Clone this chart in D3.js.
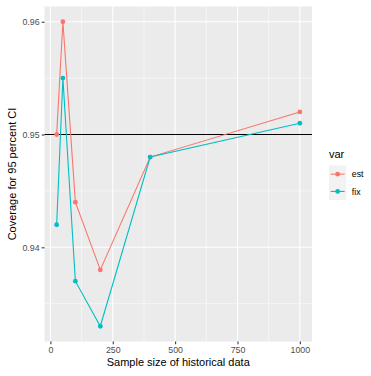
<!DOCTYPE html>
<html>
<head>
<meta charset="utf-8">
<script src="https://cdn.jsdelivr.net/npm/d3@7"></script>
<style>
  body { margin: 0; background: #fff; }
  svg text { font-family: "Liberation Sans", Arial, sans-serif; }
</style>
</head>
<body>
<div id="chart"></div>
<script>
const sampleSizes = [25, 50, 100, 200, 400, 1000];
const estValues = [0.950, 0.960, 0.944, 0.938, 0.948, 0.952];
const fixValues = [0.942, 0.955, 0.937, 0.933, 0.948, 0.951];
const seriesNames = ['est', 'fix'];
const xTicks = [0, 250, 500, 750, 1000];
const xMinor = [125, 375, 625, 875];
const yTicks = [0.94, 0.95, 0.96];
const yMinor = [0.935, 0.945, 0.955];
const refLine = 0.95;

function drawChart() {
    const W = 371, H = 376;
    const panel = {left: 44.5, right: 312, top: 6.5, bottom: 341.5};

    const svg = d3.select('#chart')
        .append('svg')
        .attr('width', W)
        .attr('height', H);

    const series = [
        {key: 'est', values: estValues},
        {key: 'fix', values: fixValues}
    ];

    // ggplot-like 5% expansion
    const allY = estValues.concat(fixValues);
    const xExt = d3.extent(sampleSizes), yExt = d3.extent(allY);
    const xPad = (xExt[1] - xExt[0]) * 0.05, yPad = (yExt[1] - yExt[0]) * 0.05;

    const x = d3.scaleLinear()
        .domain([xExt[0] - xPad, xExt[1] + xPad])
        .range([panel.left, panel.right]);

    const y = d3.scaleLinear()
        .domain([yExt[0] - yPad, yExt[1] + yPad])
        .range([panel.bottom, panel.top]);

    const color = d3.scaleOrdinal()
        .domain(seriesNames)
        .range(['#F8766D', '#00BFC4']);

    // panel background
    svg.append('rect')
        .attr('x', panel.left)
        .attr('y', panel.top)
        .attr('width', panel.right - panel.left)
        .attr('height', panel.bottom - panel.top)
        .attr('fill', '#EBEBEB');

    const grid = svg.append('g').attr('stroke', '#fff').attr('fill', 'none');
    grid.selectAll('.ymin').data(yMinor).join('line')
        .attr('x1', panel.left).attr('x2', panel.right)
        .attr('y1', d => y(d)).attr('y2', d => y(d))
        .attr('stroke-width', 0.53);
    grid.selectAll('.xmin').data(xMinor).join('line')
        .attr('y1', panel.top).attr('y2', panel.bottom)
        .attr('x1', d => x(d)).attr('x2', d => x(d))
        .attr('stroke-width', 0.53);
    grid.selectAll('.ymaj').data(yTicks).join('line')
        .attr('x1', panel.left).attr('x2', panel.right)
        .attr('y1', d => y(d)).attr('y2', d => y(d))
        .attr('stroke-width', 1.07);
    grid.selectAll('.xmaj').data(xTicks).join('line')
        .attr('y1', panel.top).attr('y2', panel.bottom)
        .attr('x1', d => x(d)).attr('x2', d => x(d))
        .attr('stroke-width', 1.07);

    // reference line
    svg.append('line')
        .attr('x1', panel.left).attr('x2', panel.right)
        .attr('y1', y(refLine)).attr('y2', y(refLine))
        .attr('stroke', '#000')
        .attr('stroke-width', 1.1);

    const line = d3.line()
        .x((d, i) => x(sampleSizes[i]))
        .y(d => y(d));

    svg.append('g')
        .selectAll('path')
        .data(series)
        .join('path')
        .attr('fill', 'none')
        .attr('stroke', d => color(d.key))
        .attr('stroke-width', 1.1)
        .attr('d', d => line(d.values));

    svg.append('g')
        .selectAll('g')
        .data(series)
        .join('g')
        .attr('fill', d => color(d.key))
        .selectAll('circle')
        .data(d => d.values)
        .join('circle')
        .attr('cx', (d, i) => x(sampleSizes[i]))
        .attr('cy', d => y(d))
        .attr('r', 2.4);

    // Axes
    const xAxis = svg.append('g')
        .attr('transform', `translate(0,${panel.bottom})`)
        .call(d3.axisBottom(x).tickValues(xTicks).tickFormat(d3.format('d')).tickSize(2.75).tickPadding(2.2));
    const yAxis = svg.append('g')
        .attr('transform', `translate(${panel.left},0)`)
        .call(d3.axisLeft(y).tickValues(yTicks).tickFormat(d3.format('.2f')).tickSize(2.75).tickPadding(2.2));
    [xAxis, yAxis].forEach(a => {
        a.select('.domain').remove();
        a.selectAll('.tick line').attr('stroke', '#333').attr('stroke-width', 1.07);
        a.selectAll('.tick text').attr('fill', '#4D4D4D').style('font-size', '8.8px');
    });

    // X-axis label
    svg.append('text')
        .attr('x', (panel.left + panel.right) / 2)
        .attr('y', 366)
        .attr('text-anchor', 'middle')
        .style('font-size', '11px')
        .text('Sample size of historical data');

    // Y-axis label
    svg.append('text')
        .attr('transform', 'rotate(-90)')
        .attr('x', -(panel.top + panel.bottom) / 2)
        .attr('y', 16)
        .attr('text-anchor', 'middle')
        .style('font-size', '11px')
        .text('Coverage for 95 percent CI');

    // Legend
    const legend = svg.append('g')
        .attr('transform', 'translate(329, 0)');

    legend.append('text')
        .attr('x', 0)
        .attr('y', 158)
        .style('font-size', '11px')
        .text('var');

    const items = legend.selectAll('.legend-item')
        .data(color.domain())
        .join('g')
        .attr('class', 'legend-item')
        .attr('transform', (d, i) => `translate(0, ${165.5 + i * 17.3})`);

    items.append('rect')
        .attr('width', 17.3)
        .attr('height', 17.3)
        .attr('fill', '#F2F2F2');
    items.append('line')
        .attr('x1', 1.7).attr('x2', 15.6)
        .attr('y1', 8.65).attr('y2', 8.65)
        .attr('stroke', d => color(d))
        .attr('stroke-width', 1.1);
    items.append('circle')
        .attr('cx', 8.65).attr('cy', 8.65)
        .attr('r', 2.4)
        .attr('fill', d => color(d));
    items.append('text')
        .attr('x', 22.8)
        .attr('y', 11.8)
        .style('font-size', '8.8px')
        .attr('fill', '#000')
        .text(d => d);
}

drawChart();
</script>
</body>
</html>
